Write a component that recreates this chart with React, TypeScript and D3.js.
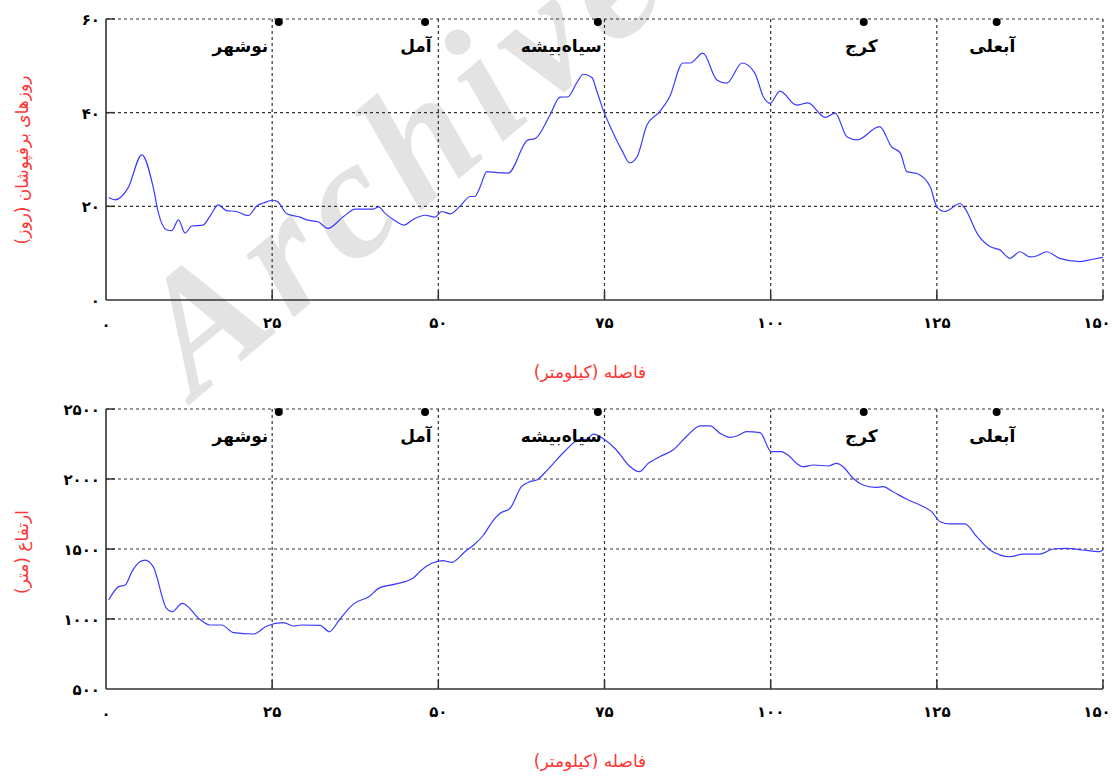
import React from 'react';
import * as d3 from 'd3';

// snow-covered days along the route
const snowKm = [0.4, 1.4, 3.3, 5.4, 7.1, 7.9, 9.1, 9.9, 10.9, 11.9, 12.9, 14.6, 15.6, 16.9, 18.1, 19.6, 21.4, 22.7, 23.7, 25.0, 25.8, 27.2, 29.2, 30.2, 31.9, 33.4, 35.7, 37.5, 40.2, 41.0, 42.0, 43.5, 44.8, 46.2, 48.0, 49.5, 50.5, 51.8, 53.3, 54.8, 55.5, 56.3, 57.3, 58.8, 60.5, 63.5, 64.5, 66.8, 68.3, 69.5, 70.8, 71.8, 73.1, 73.8, 74.8, 76.1, 77.6, 78.8, 79.9, 81.4, 83.3, 84.8, 86.8, 87.9, 89.8, 91.9, 93.4, 95.7, 97.6, 98.9, 99.9, 101.4, 103.9, 105.6, 108.2, 109.7, 111.5, 113.0, 116.4, 118.2, 119.5, 120.5, 122.0, 124.0, 125.0, 126.2, 128.5, 129.2, 131.2, 133.0, 134.5, 136.0, 137.5, 139.0, 140.0, 141.5, 143.5, 146.5, 148.5, 150];
const snowDays = [21.9, 21.4, 23.9, 31.0, 24.1, 18.5, 15.0, 14.8, 17.1, 14.3, 15.8, 16.0, 17.8, 20.3, 19.1, 18.9, 18.0, 20.1, 20.7, 21.3, 21.0, 18.4, 17.7, 17.1, 16.7, 15.3, 17.8, 19.4, 19.4, 19.9, 18.5, 16.9, 16.0, 17.2, 18.1, 17.7, 18.9, 18.4, 20.1, 22.1, 22.1, 24.2, 27.4, 27.2, 27.1, 34.2, 34.4, 39.5, 43.3, 43.4, 46.3, 48.2, 47.5, 44.8, 40.6, 36.3, 32.0, 29.3, 30.6, 37.4, 40.2, 43.4, 50.6, 50.6, 52.7, 47.0, 46.3, 50.6, 48.5, 43.4, 42.0, 44.6, 41.6, 42.1, 39.0, 39.9, 34.8, 34.2, 37.0, 32.7, 31.4, 27.4, 27.0, 24.2, 19.9, 18.9, 20.6, 19.6, 13.9, 11.4, 10.7, 8.9, 10.3, 9.2, 9.4, 10.3, 8.9, 8.2, 8.7, 9.1];

// elevation along the route
const elevKm = [0.4, 1.9, 2.9, 3.9, 5.1, 5.9, 7.1, 9.1, 9.9, 11.5, 14.1, 15.6, 17.4, 19.2, 22.2, 24.2, 26.7, 28.2, 29.4, 32.2, 33.6, 35.2, 37.2, 39.7, 41.0, 43.5, 46.2, 47.2, 49.0, 50.7, 52.0, 54.0, 55.5, 56.8, 58.3, 59.3, 60.8, 62.5, 63.8, 64.8, 66.5, 69.1, 71.3, 72.3, 73.3, 75.1, 76.8, 78.6, 80.2, 81.6, 83.3, 85.3, 87.4, 89.4, 90.9, 92.4, 93.9, 94.9, 96.4, 98.4, 100.1, 101.6, 102.6, 103.9, 104.9, 106.4, 108.7, 109.9, 110.9, 112.4, 113.9, 115.7, 116.9, 118.4, 120.5, 123.0, 124.2, 125.5, 127.0, 129.2, 131.0, 133.0, 136.0, 138.0, 140.5, 142.5, 144.5, 147.0, 149.5, 150];
const elevM = [1136, 1231, 1243, 1338, 1409, 1421, 1374, 1076, 1052, 1112, 998, 957, 957, 902, 893, 950, 974, 950, 957, 955, 909, 1000, 1106, 1164, 1219, 1249, 1291, 1338, 1398, 1417, 1405, 1481, 1536, 1600, 1707, 1755, 1791, 1945, 1981, 1993, 2069, 2202, 2283, 2283, 2321, 2279, 2207, 2100, 2052, 2112, 2159, 2207, 2307, 2380, 2379, 2326, 2298, 2307, 2338, 2331, 2195, 2195, 2171, 2112, 2088, 2100, 2093, 2112, 2088, 2005, 1957, 1940, 1945, 1909, 1855, 1802, 1767, 1695, 1679, 1679, 1588, 1493, 1445, 1464, 1464, 1500, 1505, 1493, 1481, 1493];

const cityNames = ['نوشهر', 'آمل', 'سیاه‌بیشه', 'کرج', 'آبعلی'];
const cityKm = [26, 48, 74, 114, 134];
// km where each label's right edge sits
const cityLabelKm = [24.4, 49.0, 74.6, 116.1, 136.8];

const xTicks = [0, 25, 50, 75, 100, 125, 150];
const snowTicks = [0, 20, 40, 60];
const elevTicks = [500, 1000, 1500, 2000, 2500];

const xTitle = 'فاصله (کیلومتر)';
const snowTitle = 'روزهای برفپوشان (روز)';
const elevTitle = 'ارتفاع (متر)';

const W = 1113;
const H = 776;
const left = 106;
const right = 1103;

const fa = (n: number) => String(n).replace(/\d/g, d => '۰۱۲۳۴۵۶۷۸۹'[+d]);
const faFont = '"DejaVu Sans", sans-serif';
const axisColor = '#333';

const x = d3.scaleLinear().domain([0, 150]).range([left, right]);

type PanelProps = {
  top: number;
  bottom: number;
  domain: [number, number];
  ticks: number[];
  xs: number[];
  ys: number[];
  yTitle: string;
  yTitleY: number;
};

const Panel = ({ top, bottom, domain, ticks, xs, ys, yTitle, yTitleY }: PanelProps) => {
  const y = d3.scaleLinear().domain(domain).range([bottom, top]);
  const line = d3.line<number>()
    .x((d, i) => x(xs[i]))
    .y(d => y(d))
    .curve(d3.curveMonotoneX);

  return (
    <g>
      {/* grid */}
      {ticks.slice(1).map(t => (
        <line key={'h' + t} x1={left} x2={right} y1={y(t)} y2={y(t)}
          stroke={axisColor} strokeDasharray="3,3" strokeWidth={1.2} />
      ))}
      {xTicks.slice(1).map(t => (
        <line key={'v' + t} x1={x(t)} x2={x(t)} y1={top} y2={bottom}
          stroke={axisColor} strokeDasharray="3,3" strokeWidth={1.2} />
      ))}
      {/* inward ticks */}
      {xTicks.slice(1).map(t => (
        <line key={'tk' + t} x1={x(t)} x2={x(t)} y1={bottom} y2={bottom - 9}
          stroke={axisColor} strokeWidth={1.5} />
      ))}
      {ticks.slice(1).map(t => (
        <line key={'tl' + t} x1={left} x2={left + 9} y1={y(t)} y2={y(t)}
          stroke={axisColor} strokeWidth={1.5} />
      ))}
      {/* axes */}
      <line x1={left} x2={left} y1={top} y2={bottom} stroke={axisColor} strokeWidth={1.6} />
      <line x1={left} x2={right} y1={bottom} y2={bottom} stroke={axisColor} strokeWidth={1.6} />

      {/* data line */}
      <path d={line(ys) || ''} fill="none" stroke="#3b3bff" strokeWidth={1.2} />

      {/* cities */}
      {cityNames.map((name, i) => (
        <g key={name}>
          <circle cx={x(cityKm[i])} cy={top + 3} r={4} fill="#000" />
          <text x={x(cityLabelKm[i])} y={top + 33} textAnchor="end"
            fontFamily={faFont} fontWeight="bold" fontSize={17} fill="#000">{name}</text>
        </g>
      ))}

      {/* y tick labels */}
      {ticks.map(t => (
        <text key={'yl' + t} x={100} y={y(t) + 6} textAnchor="end"
          fontFamily={faFont} fontWeight="bold" fontSize={15} fill="#000">{fa(t)}</text>
      ))}
      {/* x tick labels */}
      {xTicks.map(t => (
        <text key={'xl' + t} x={t === 150 ? x(t) - 6 : x(t)} y={bottom + (t === 0 ? 30 : 28)} textAnchor="middle"
          fontFamily={faFont} fontWeight="bold" fontSize={15} fill="#000">{fa(t)}</text>
      ))}

      {/* titles */}
      <text x={590} y={bottom + 78} textAnchor="middle" fontFamily={faFont}
        fontSize={17} fill="#ff3333">{xTitle}</text>
      <text transform={`translate(28,${yTitleY}) rotate(-90)`} textAnchor="middle"
        fontFamily={faFont} fontSize={17} fill="#ff3333">{yTitle}</text>
    </g>
  );
};

const App = () => (
  <svg width={W} height={H} viewBox={`0 0 ${W} ${H}`}
    style={{ position: 'absolute', left: 0, top: 0, background: '#fff' }}>
    <rect width={W} height={H} fill="#fff" />
    <text transform="translate(195,400) rotate(-40)" fontFamily='"Liberation Serif", serif'
      fontWeight="bold" fontStyle="italic" fontSize={170} letterSpacing={12} fill="#e3e3e3">Archive</text>
    <Panel top={19} bottom={300} domain={[0, 60]} ticks={snowTicks}
      xs={snowKm} ys={snowDays} yTitle={snowTitle} yTitleY={160} />
    <Panel top={409} bottom={689} domain={[500, 2500]} ticks={elevTicks}
      xs={elevKm} ys={elevM} yTitle={elevTitle} yTitleY={552} />
  </svg>
);

export default App;
